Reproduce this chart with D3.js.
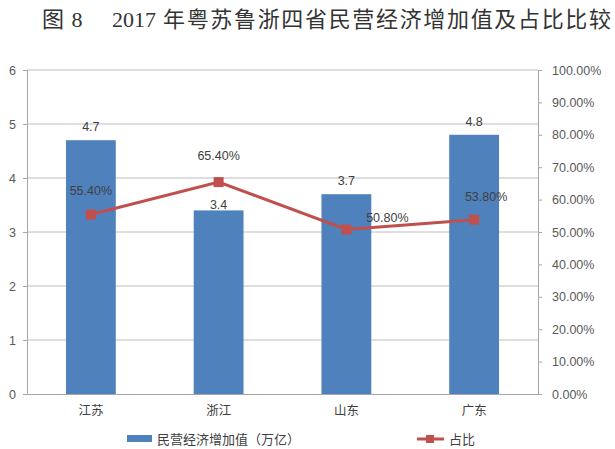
<!DOCTYPE html>
<html><head><meta charset="utf-8">
<script src="https://cdn.jsdelivr.net/npm/d3@7/dist/d3.min.js"></script>
<style>body{margin:0;background:#fff;}svg{display:block;}</style>
</head><body>
<svg id="c" width="615" height="449"></svg>
<script>
const categories = ["江苏", "浙江", "山东", "广东"];
const valueSeries = [4.7, 3.4, 3.7, 4.8];
const shareSeries = [0.554, 0.654, 0.508, 0.538];
const leftTicks = [0, 1, 2, 3, 4, 5, 6];
const rightTicks = [0, 0.1, 0.2, 0.3, 0.4, 0.5, 0.6, 0.7, 0.8, 0.9, 1.0];
const titleNum = "图 8";
const titleYear = "2017";
const titleText = "年粤苏鲁浙四省民营经济增加值及占比比较";
const legendBar = "民营经济增加值（万亿）";
const legendLine = "占比";

const svg = d3.select("#c");
const L = 27, R = 538, T = 70, B = 394;
const x = d3.scaleBand().domain(categories).range([L, R]).paddingInner(0.61).paddingOuter(0.305);
const yL = d3.scaleLinear().domain([0, 6]).range([B, T]);
const yR = d3.scaleLinear().domain([0, 1]).range([B, T]);
const cx = c => x(c) + x.bandwidth() / 2;
const font = "'Liberation Sans','Noto Sans CJK SC',sans-serif";
const txt = "#404040";
const fs = 12.5;
const serif = "'Liberation Serif','Noto Sans CJK SC',serif";

svg.append("text").attr("x", 42).attr("y", 27).attr("font-family", serif)
  .attr("font-size", 22).attr("fill", "#333").attr("letter-spacing", 1).text(titleNum);
svg.append("text").attr("x", 112).attr("y", 27).attr("font-family", serif)
  .attr("font-size", 22).attr("fill", "#333").text(titleYear);
svg.append("text").attr("x", 163).attr("y", 27).attr("font-family", serif)
  .attr("font-size", 22).attr("fill", "#333")
  .attr("textLength", 448).attr("lengthAdjust", "spacing").text(titleText);

// gridlines
svg.append("g").selectAll("line").data(leftTicks.slice(1)).join("line")
  .attr("x1", L).attr("x2", R).attr("y1", d => yL(d)).attr("y2", d => yL(d))
  .attr("stroke", "#bdbdbd").attr("stroke-width", 1);

// left axis
const gl = svg.append("g").attr("transform", `translate(${L},0)`)
  .call(d3.axisLeft(yL).tickValues(leftTicks).tickSize(4).tickPadding(7).tickFormat(d3.format("d")));
gl.select(".domain").attr("stroke", "#a6a6a6");
gl.selectAll(".tick line").attr("stroke", "#a6a6a6");
gl.selectAll("text").attr("font-family", font).attr("font-size", fs).attr("fill", "#595959");

// right axis
const gr = svg.append("g").attr("transform", `translate(${R},0)`)
  .call(d3.axisRight(yR).tickValues(rightTicks).tickSize(4).tickPadding(10).tickFormat(d3.format(".2%")));
gr.select(".domain").attr("stroke", "#a6a6a6");
gr.selectAll(".tick line").attr("stroke", "#a6a6a6");
gr.selectAll("text").attr("font-family", font).attr("font-size", fs).attr("fill", "#595959");

// bottom axis
const gb = svg.append("g").attr("transform", `translate(0,${B})`)
  .call(d3.axisBottom(x).tickSize(0).tickPadding(12));
gb.select(".domain").attr("stroke", "#a6a6a6");
gb.selectAll("text").attr("font-family", font).attr("font-size", fs).attr("fill", txt);

// bars
svg.append("g").selectAll("rect").data(valueSeries).join("rect")
  .attr("x", (d, i) => x(categories[i])).attr("width", x.bandwidth())
  .attr("y", d => yL(d)).attr("height", d => B - yL(d)).attr("fill", "#4F81BD");
const barLblOff = [-9, -1, -9, -9];
svg.append("g").selectAll("text").data(valueSeries).join("text")
  .attr("x", (d, i) => cx(categories[i])).attr("y", (d, i) => yL(d) + barLblOff[i])
  .attr("text-anchor", "middle").attr("font-family", font).attr("font-size", fs).attr("fill", txt)
  .text(d => d3.format(".1f")(d));

// line
const line = d3.line().x((d, i) => cx(categories[i])).y(d => yR(d));
svg.append("path").datum(shareSeries).attr("d", line).attr("fill", "none")
  .attr("stroke", "#C0504D").attr("stroke-width", 3);
svg.append("g").selectAll("rect").data(shareSeries).join("rect")
  .attr("x", (d, i) => cx(categories[i]) - 5).attr("y", d => yR(d) - 5)
  .attr("width", 10).attr("height", 10).attr("fill", "#C0504D");
const lblOff = [[0, -20], [0, -22], [41, -7], [12, -19]];
svg.append("g").selectAll("text").data(shareSeries).join("text")
  .attr("x", (d, i) => cx(categories[i]) + lblOff[i][0]).attr("y", (d, i) => yR(d) + lblOff[i][1])
  .attr("text-anchor", "middle").attr("font-family", font).attr("font-size", fs).attr("fill", txt)
  .text(d => d3.format(".2%")(d));

// legend
svg.append("rect").attr("x", 127).attr("y", 435).attr("width", 25).attr("height", 7).attr("fill", "#4F81BD");
svg.append("text").attr("x", 157).attr("y", 444).attr("font-family", font).attr("font-size", 13).attr("fill", txt).text(legendBar);
svg.append("line").attr("x1", 417).attr("x2", 444).attr("y1", 439).attr("y2", 439).attr("stroke", "#C0504D").attr("stroke-width", 3);
svg.append("rect").attr("x", 426).attr("y", 435).attr("width", 8).attr("height", 8).attr("fill", "#C0504D");
svg.append("text").attr("x", 449).attr("y", 444).attr("font-family", font).attr("font-size", 13).attr("fill", txt).text(legendLine);
</script>
</body></html>
